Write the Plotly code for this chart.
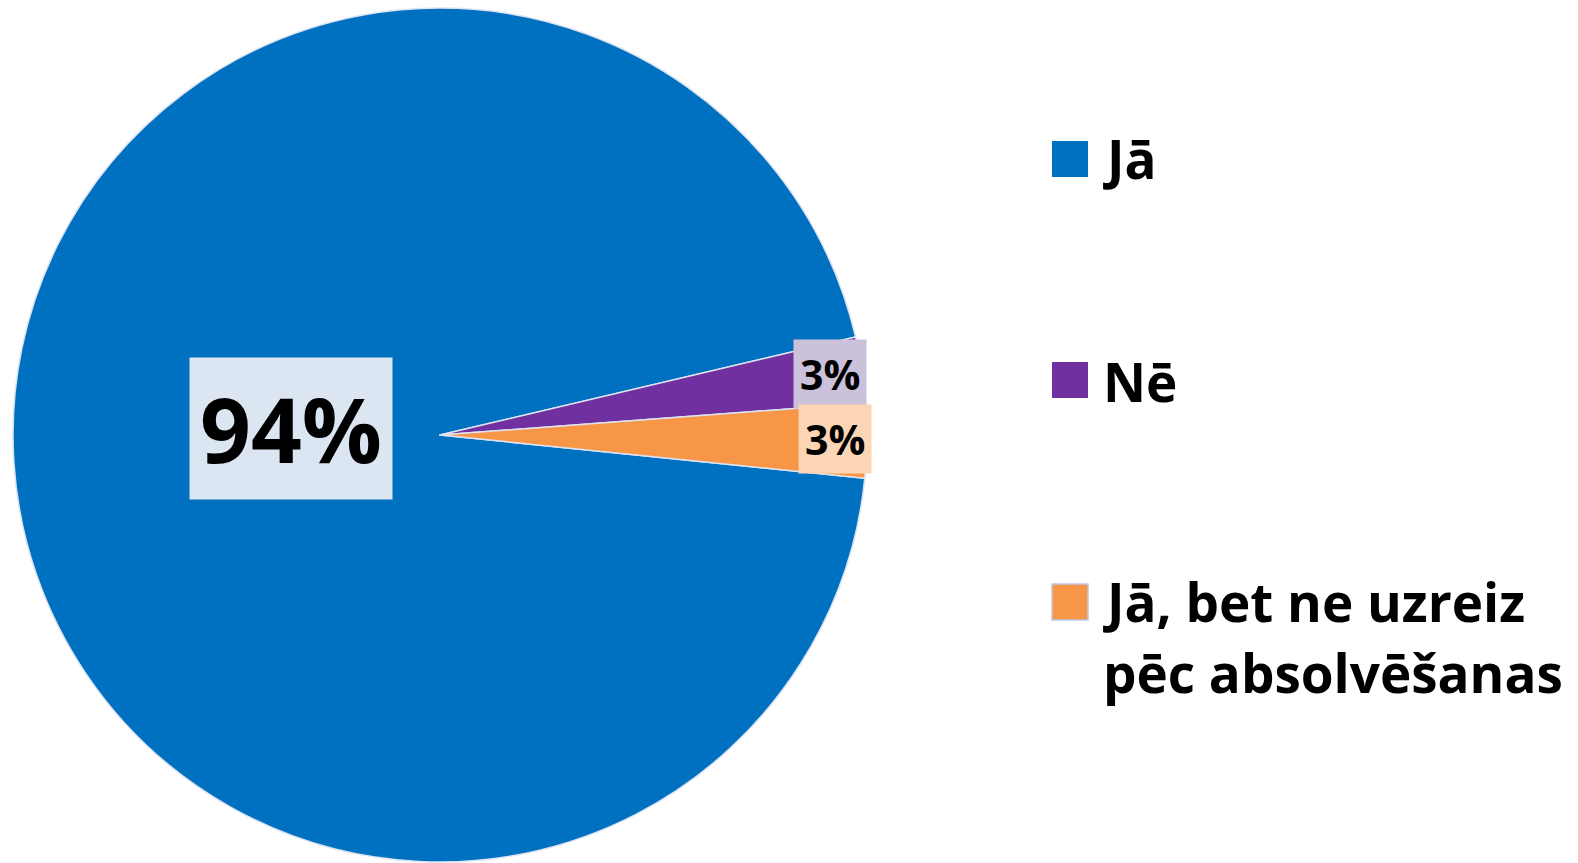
import math
import plotly.graph_objects as go

categories = ["Jā", "Nē", "Jā, bet ne uzreiz<br>pēc absolvēšanas"]
legend_lines = [["Jā"], ["Nē"], ["Jā, bet ne uzreiz", "pēc absolvēšanas"]]
values = [94.7, 2.5, 2.8]
label_texts = ["94%", "3%", "3%"]
colors = ["#0070C0", "#7030A0", "#F79646"]
label_bg = ["#DCE6F2", "#CCC1DA", "#FCD5B5"]

W, H = 1578, 863
ROT = 95.8
# pie geometry in pixels
CX, CY, R = 440, 435, 427

FONT = "Open Sans"

fig = go.Figure()
fig.add_trace(go.Pie(
    labels=categories,
    values=values,
    sort=False,
    direction="clockwise",
    rotation=ROT,
    marker=dict(colors=colors, line=dict(color="#DCE3F2", width=1.5)),
    textinfo="none",
    hoverinfo="label+percent",
    showlegend=False,
    domain=dict(x=[(CX - R) / W, (CX + R) / W], y=[(H - CY - R) / H, (H - CY + R) / H]),
))

def px(x):
    return x / W

def py(y):
    return 1 - y / H

annotations = []
shapes = []
total = sum(values)
cum = 0.0
for i, v in enumerate(values):
    mid = ROT + (cum + v / 2) / total * 360
    cum += v
    th = math.radians(mid)
    if i == 0:
        lx, ly = 291, 428
        size, pad = 89, 10
    else:
        r = 0.925 * R
        lx = CX + r * math.sin(th)
        ly = CY - r * math.cos(th) - 1
        size, pad = 41, 6
    annotations.append(dict(
        x=px(lx), y=py(ly), xref="paper", yref="paper",
        text="<b>%s</b>" % label_texts[i], showarrow=False,
        font=dict(family=FONT, size=size, color="black"),
        bgcolor=label_bg[i], borderpad=pad,
        xanchor="center", yanchor="middle",
    ))

# legend
leg_y = [159, 380, 602]
text_y = [155, 378, 598]
line_gap = 71
for i, lines in enumerate(legend_lines):
    y0 = leg_y[i]
    shapes.append(dict(
        type="rect", xref="paper", yref="paper",
        x0=px(1052), x1=px(1088), y0=py(y0 - 18), y1=py(y0 + 18),
        fillcolor=colors[i],
        line=dict(color="#BCC8E6" if i == 2 else colors[i], width=1.5 if i == 2 else 0),
    ))
    for j, t in enumerate(lines):
        annotations.append(dict(
            x=px(1101), y=py(text_y[i] + j * line_gap + 3), xref="paper", yref="paper",
            text="<b>%s</b>" % t, showarrow=False,
            font=dict(family=FONT, size=53, color="black"),
            xanchor="left", yanchor="middle",
        ))

fig.update_layout(
    width=W, height=H,
    margin=dict(l=0, r=0, t=0, b=0),
    paper_bgcolor="white", plot_bgcolor="white",
    annotations=annotations, shapes=shapes,
)

fig.write_html("out.html")
